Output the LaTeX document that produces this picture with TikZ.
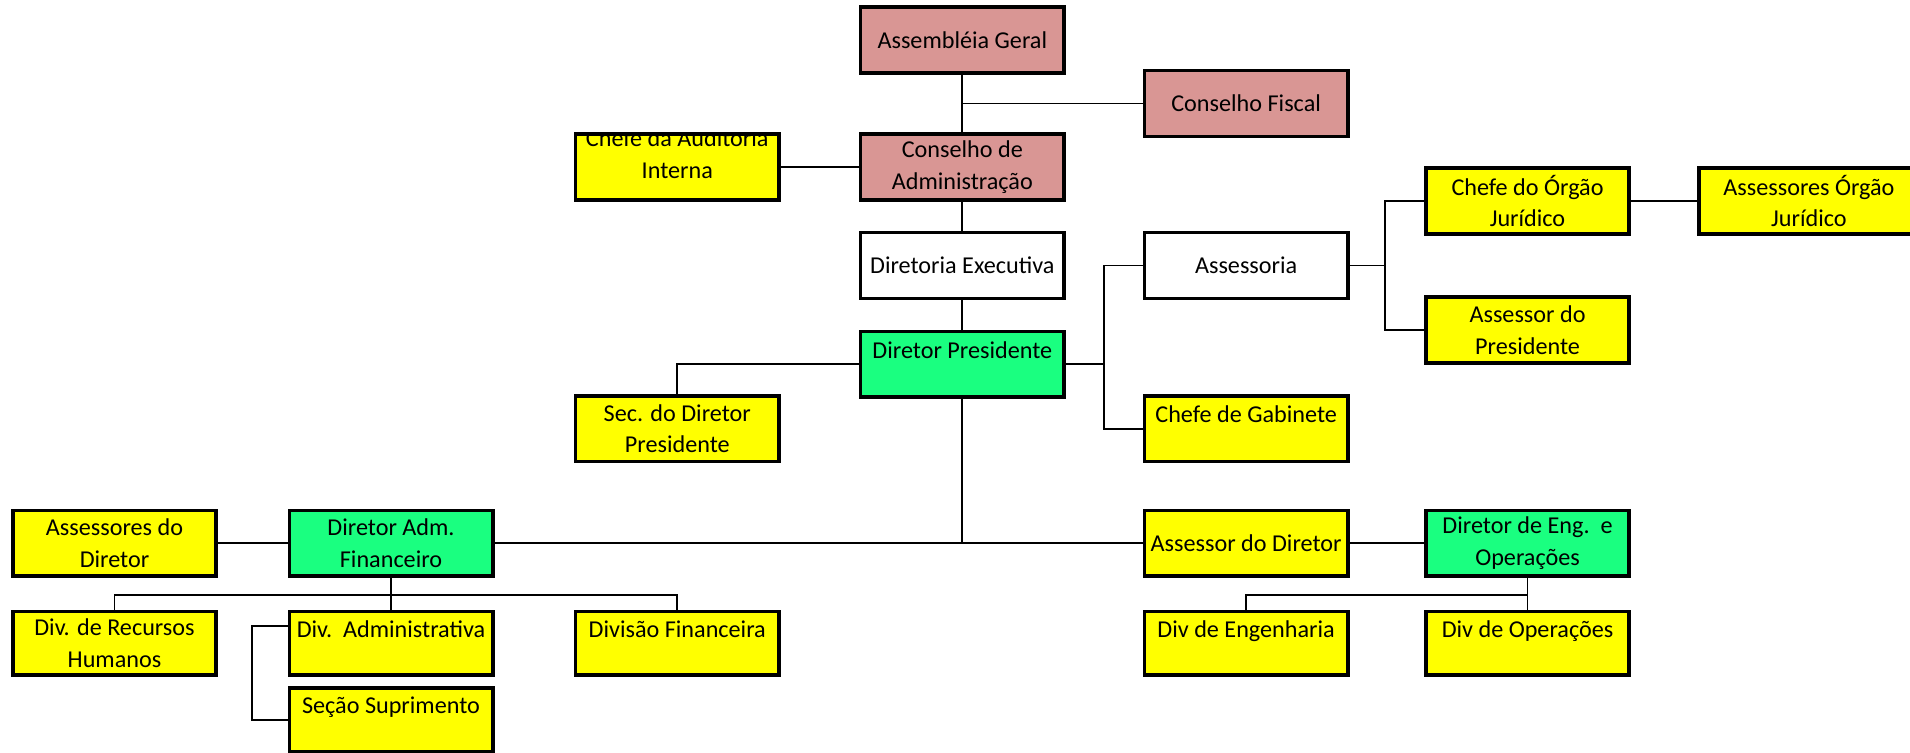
\documentclass[tikz,border=0pt]{standalone}
\usepackage{fontspec}
\setmainfont{Carlito}
\definecolor{rosa}{RGB}{217,150,148}
\definecolor{verde}{RGB}{26,255,128}
\definecolor{amarelo}{RGB}{255,255,0}

\begin{document}
\begin{tikzpicture}
  [
    x = 0.02cm, y = -0.02cm,  % coordinates in pixels, y going down
    every node/.style = {draw, rectangle, line width=1.7pt, inner sep=0pt,
      minimum width=3.34cm, minimum height=1.08cm, align=center,
      font=\fontsize{11.3}{14.8}\selectfont},
    conselho/.style = {fill=rosa},
    diretor/.style = {fill=verde},
    setor/.style = {fill=amarelo},
    baixo/.style = {minimum height=1.04cm},
    hitext/.style = {text depth=13.5pt}
  ]
  \useasboundingbox (0,0) rectangle (1568,618);

  % topo
  \node[conselho] (ag) at (790,33) {Assembléia Geral};
  \node[conselho] (cf) at (1023,85) {Conselho Fiscal};
  \node[conselho] (ca) at (790,137) {Conselho de\\Administração};
  \node[setor, path picture={
      \node[draw=none, minimum size=0pt] at ([yshift=0.21cm]path picture bounding box.center)
        {Chefe da Auditoria\\Interna};}] (aud) at (556,137) {};
  \node[fill=white] (de) at (790,218) {Diretoria Executiva};
  \node[diretor, hitext] (dp) at (790,299) {Diretor Presidente};
  \node[setor] (sec) at (556,352) {Sec. do Diretor\\Presidente};

  % assessoria
  \node[fill=white] (asr) at (1023,218) {Assessoria};
  \node[setor, hitext] (gab) at (1023,352) {Chefe de Gabinete};
  \node[setor] (cj) at (1254,165) {Chefe do Órgão\\Jurídico};
  \node[setor, minimum width=3.6cm] (aoj) at (1485,165) {Assessores Órgão\\Jurídico};
  \node[setor] (ap) at (1254,271) {Assessor do\\Presidente};

  % diretorias
  \node[setor] (asd) at (94,446) {Assessores do\\Diretor};
  \node[diretor] (dad) at (321,446) {Diretor Adm.\\Financeiro};
  \node[setor] (adir) at (1023,446) {Assessor do Diretor};
  \node[diretor] (deo) at (1254,446) {Diretor de Eng.\ \ e\\Operações};

  % divisoes
  \node[setor, baixo] (rh) at (94,528) {Div. de Recursos\\Humanos};
  \node[setor, baixo, hitext] (dadm) at (321,528) {Div.\ \ Administrativa};
  \node[setor, baixo, hitext] (dfin) at (556,528) {Divisão Financeira};
  \node[setor, baixo, hitext] (sup) at (321,591) {Seção Suprimento};
  \node[setor, baixo, hitext] (deng) at (1023,528) {Div de Engenharia};
  \node[setor, baixo, hitext] (dop) at (1254,528) {Div de Operações};

  \begin{scope}[line width = 0.8pt]
    \draw (ag) -- (ca);
    \draw (ag |- cf.west) -- (cf.west);
    \draw (aud) -- (ca);
    \draw (ca) -- (de);
    \draw (de) -- (dp);
    \draw (dp.west) -| (sec.north);
    \draw (asr.west) -- ++(-32,0) coordinate (b1) |- (gab.west);
    \draw (dp.east) -- (dp.east -| b1);
    \draw (cj.west) -- ++(-32,0) coordinate (b2) |- (ap.west);
    \draw (asr.east) -- (asr.east -| b2);
    \draw (cj) -- (aoj);
    \draw (dp.south) -- (dp.south |- dad.east);
    \draw (dad.east) -- (adir.west);
    \draw (asd) -- (dad);
    \draw (adir) -- (deo);
    \draw (dad) -- (dadm);
    \draw (rh.north) -- ++(0,-12) -| (dfin.north);
    \draw ([yshift=0.28cm]dadm.west) -- ++(-29,0) |- (sup.west);
    \draw (deo) -- (dop);
    \draw (deng.north) -- ++(0,-12) -| (dop.north);
  \end{scope}
\end{tikzpicture}
\end{document}
